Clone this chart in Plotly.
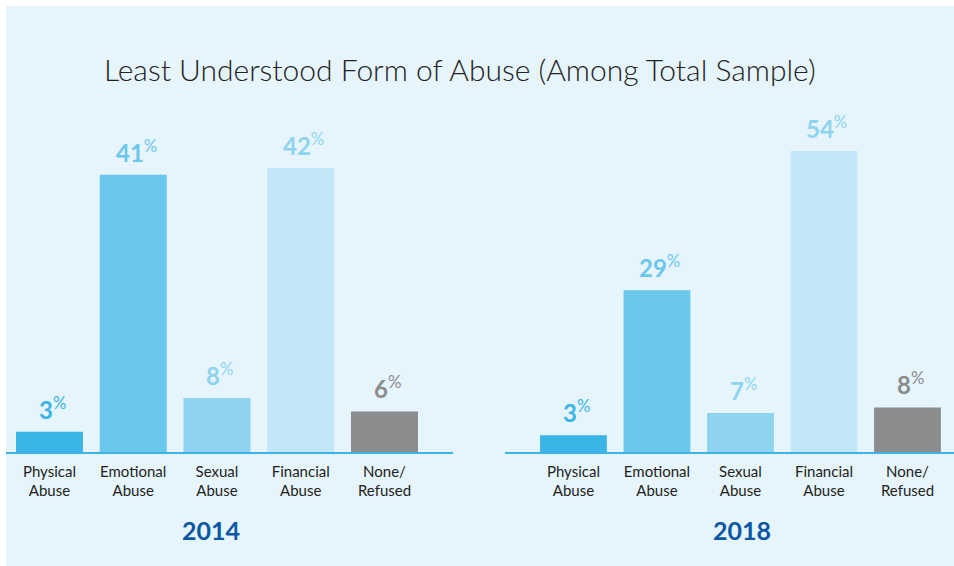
import plotly.graph_objects as go

categories = ["Physical<br>Abuse", "Emotional<br>Abuse", "Sexual<br>Abuse", "Financial<br>Abuse", "None/<br>Refused"]
values_2014 = [3, 41, 8, 42, 6]
values_2018 = [3, 29, 7, 54, 8]
years = ["2014", "2018"]
title_text = "Least Understood Form of Abuse (Among Total Sample)"

bar_colors = ["#3BB4E6", "#6CC7EC", "#8ED4EF", "#C2E7F7", "#8B8C8E"]
label_colors = ["#3BB4E6", "#6CC7EC", "#8ED4EF", "#8ED4EF", "#8B8C8E"]

W, H = 954, 566
fig = go.Figure()

def px_x(p):
    return p / W

def px_y(p):
    return (H - p) / H

# panel background
fig.add_shape(type="rect", xref="paper", yref="paper", x0=px_x(6), x1=1, y0=0, y1=px_y(6),
              fillcolor="#E6F4FC", line=dict(width=0), layer="below")

for i, (vals, xa, ya) in enumerate([(values_2014, "x", "y"), (values_2018, "x2", "y2")]):
    fig.add_trace(go.Bar(x=categories, y=vals, marker=dict(color=bar_colors, line=dict(width=0)),
                         width=0.8, xaxis=xa, yaxis=ya, showlegend=False, hoverinfo="skip"))
    for c, v, col in zip(categories, vals, label_colors):
        fig.add_annotation(x=c, y=v, xref=xa, yref=ya, text=f"<b>{v}</b><sup>%</sup>",
                           showarrow=False, yanchor="bottom", xanchor="center", yshift=6, xshift=3,
                           font=dict(family="Lato", size=24, color=col))

ydom = [px_y(452), px_y(100)]
axis_common = dict(type="category", showgrid=False, zeroline=False, showline=True,
                   linecolor="#3BB4E6", linewidth=1.5, ticks="outside", ticklen=5,
                   tickcolor="rgba(0,0,0,0)", tickfont=dict(family="Lato", size=15, color="#231F20"),
                   fixedrange=True)

fig.update_layout(
    width=W, height=H,
    margin=dict(l=0, r=0, t=0, b=0),
    paper_bgcolor="white", plot_bgcolor="rgba(0,0,0,0)",
    bargap=0.2,
    xaxis=dict(domain=[px_x(6), px_x(453)], range=[-0.519, 4.818], anchor="y", **axis_common),
    xaxis2=dict(domain=[px_x(505), 1.0], range=[-0.82, 4.557], anchor="y2", **axis_common),
    yaxis=dict(domain=ydom, range=[0, 352 / 6.762], visible=False, fixedrange=True),
    yaxis2=dict(domain=ydom, range=[0, 352 / 5.574], visible=False, fixedrange=True, anchor="x2"),
)

fig.add_annotation(text=title_text, xref="paper", yref="paper", x=px_x(460), y=px_y(69),
                   xanchor="center", yanchor="middle", showarrow=False,
                   font=dict(family="Lato", size=30, color="#222222", weight=300))

for yr, xc in zip(years, [211, 742]):
    fig.add_annotation(text=f"<b>{yr}</b>", xref="paper", yref="paper", x=px_x(xc), y=px_y(530),
                       xanchor="center", yanchor="middle", showarrow=False,
                       font=dict(family="Lato", size=25, color="#0B57A4"))

fig.write_html("out.html", config={"displayModeBar": False},
               post_script="document.body.style.margin='0';document.body.style.overflow='hidden';")
